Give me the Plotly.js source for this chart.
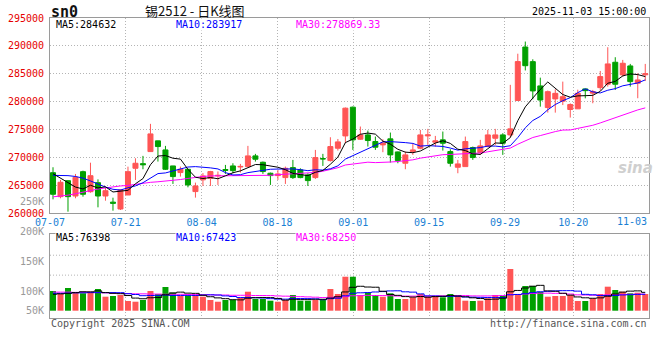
<!DOCTYPE html>
<html><head><meta charset="utf-8">
<script src="https://cdn.plot.ly/plotly-3.0.1.min.js"></script>
<style>html,body{margin:0;padding:0;background:#fff}#chart{width:660px;height:360px}</style>
</head><body><div id="chart"></div>
<script>
const dates = ['07-07','07-08','07-09','07-10','07-11','07-14','07-15','07-16','07-17','07-18',
'07-21','07-22','07-23','07-24','07-25','07-28','07-29','07-30','07-31','08-01',
'08-04','08-05','08-06','08-07','08-08','08-11','08-12','08-13','08-14','08-15',
'08-18','08-19','08-20','08-21','08-22','08-25','08-26','08-27','08-28','08-29',
'09-01','09-02','09-03','09-04','09-05','09-08','09-09','09-10','09-11','09-12',
'09-15','09-16','09-17','09-18','09-19','09-22','09-23','09-24','09-25','09-26',
'09-29','09-30','10-09','10-10','10-13','10-14','10-15','10-16','10-17','10-20',
'10-21','10-22','10-23','10-24','10-27','10-28','10-29','10-30','10-31','11-03'];

const open = [267280,262980,265850,263100,267460,263870,265490,263100,262000,260770,
263280,268070,268900,271060,272980,271360,268490,267300,267890,263890,
266000,266280,266700,267850,268490,268300,268370,270290,269150,267180,
266760,266400,268190,267780,266880,266400,269800,269450,271660,273870,
279020,273280,274050,272860,272260,273340,271000,268970,271060,271660,
273870,272740,273160,271060,268250,268370,271780,270880,271960,273450,
274050,274050,280210,289800,287180,282830,278950,280500,280100,278600,
278720,282290,281530,282520,283130,287070,284800,286410,283310,284820];
const high = [268250,265970,265900,267050,267640,269070,266080,264660,262800,264300,
268360,269860,270290,276030,273000,272080,268500,268370,267900,265500,
267200,267600,267500,268670,268970,268850,272080,270650,269270,267300,
267780,268370,269570,268070,267180,271360,270650,273630,273320,278960,
279140,275550,274830,273750,273270,274470,271060,271060,272560,274950,
275130,273870,274650,271480,269570,273750,271960,273160,274950,275130,
274350,283020,288600,290780,287600,284310,282000,282230,283600,279700,
282150,282300,282110,285510,289760,287970,287490,286770,285100,286770];
const low = [262500,262690,260290,262690,262980,263690,261070,262260,260470,260590,
263280,265970,267890,271000,269270,267770,265260,266580,264660,262810,
264900,264900,265080,267060,267180,267300,268250,269270,267060,265080,
265980,265260,266160,266280,264900,266160,268490,269270,271240,272560,
271360,273160,271960,271360,270950,269090,268970,267900,270470,271480,
272260,271960,271240,268370,267180,268370,269570,270470,271840,272260,
270470,273600,280210,285600,280440,279110,278050,278040,279400,277160,
278700,280600,279720,281980,282700,282110,284500,282700,280620,283700];
const close = [263410,265560,262980,266450,263410,266740,263100,264050,261800,264180,
267460,268970,268700,274230,271960,267890,266580,267890,265080,264900,
266700,267480,266800,267700,267650,268400,270290,269690,267480,266760,
267060,268070,266400,266400,265860,269990,269750,271960,272800,278840,
273160,274050,273040,271840,272560,270470,269450,270470,271360,274050,
274050,272980,272560,268970,268850,272860,269990,272080,274050,274050,
272560,275130,287190,286450,281930,280300,281800,281500,280900,279500,
281510,281980,281800,284500,286770,283130,286890,283600,283900,285000];

const ma5 = [267100,266300,265400,264700,264362,265028,264536,264750,263820,263974,
264118,265292,266222,268708,270264,270350,269872,269710,267880,266468,
266230,266410,266192,266716,267266,267606,268168,268746,268702,268524,
268256,267812,267154,266938,266758,267344,267680,268792,270072,272668,
273302,274162,274378,274186,272930,272392,271472,270958,270862,271160,
271876,272582,273000,272522,271482,271244,270646,270550,271566,272606,
272546,273574,276596,279076,280652,282200,283534,282396,281286,280800,
281042,281078,281138,281858,283312,283636,284618,284978,284858,284504];
const ma10 = [266800,266800,266750,266600,266300,265800,265200,264700,264300,264168,
264573,264914,265486,266264,267119,267234,267582,267966,268294,268366,
268290,268141,267951,267298,266867,266918,267289,267469,267709,267895,
267931,267990,267950,267820,267641,267800,267746,267973,268505,269713,
270323,270921,271585,272129,272799,272847,272817,272668,272524,272045,
272134,272027,271979,271692,271321,271560,271614,271775,272044,272044,
271895,272110,273573,275321,276629,277373,278554,279496,280181,280726,
281621,282306,281767,281572,282056,282339,282848,283058,283358,283908];
const ma30 = [262950,263050,263250,263500,263800,264050,264350,264550,264750,264900,
265000,265200,265400,265550,265650,265750,265900,266050,266250,266450,
266600,266700,266700,266700,266700,266700,266750,266800,266800,266810,
266931,267015,267129,267127,267209,267317,267539,267803,268169,268658,
268848,269017,269162,269082,269102,269188,269284,269370,269579,269884,
270129,270313,270505,270547,270587,270736,270726,270805,271024,271267,
271451,271686,272379,273047,273583,273927,274328,274646,274916,274938,
275217,275481,275773,276195,276669,277091,277672,278110,278528,278893];

const volume = [81700,69300,94200,76300,72200,78800,90000,58100,61000,65100,
40200,37300,44400,81700,69300,98300,74700,61000,61000,65100,
58100,44400,37300,44400,44400,54100,78800,48500,48500,41500,
37300,44400,65100,41500,41500,44400,44400,90000,69300,141000,
141000,65100,74700,65100,58100,72200,48500,48500,55600,69300,
58100,61000,55600,69300,61000,41500,40200,41500,51500,65100,
61000,173000,69300,102500,102500,78800,58100,61000,61000,65100,
40200,40200,51500,69300,99600,85900,78800,72200,74700,69300];
const volMa5 = [68000,70000,72000,75000,78700,78200,82300,75100,72000,70600,
62900,52300,49600,53700,54600,66200,73700,77000,72900,72000,
64000,57900,53200,49900,45700,44900,51800,54000,54900,54300,
50900,44000,47400,46000,46000,47400,47400,52400,57900,77800,
97100,101300,98200,97400,80800,67000,63700,58500,56600,58800,
56000,58500,59900,62700,61000,57700,53500,50700,47100,48000,
51900,78400,84000,94200,101700,105200,82200,80600,72300,64800,
57100,53500,51600,53300,60200,69300,77000,81200,82200,76200];
const volMa10 = [72000,72000,73000,74000,74000,75000,75000,75000,75000,74700,
70500,67300,62300,62900,62600,64500,63000,63300,63300,63300,
65100,65800,65100,61400,58900,54500,54900,53600,52400,50000,
47900,47900,50700,50400,50100,49200,45700,49900,51900,61900,
72300,74300,75300,77700,79300,82100,82500,78400,77000,69800,
61500,61100,59200,59600,59900,56800,56000,55300,54900,54500,
54800,66000,67300,70700,74800,78500,80300,82300,83200,83200,
81200,67900,66100,62800,62500,63200,65300,66400,67800,68200];
const volMa30 = [77000,77000,77000,76000,76000,76000,75000,74000,73000,72000,
71000,70000,70000,69000,69000,68000,68000,68000,67000,67000,
66000,66000,65000,65000,64000,64000,64000,63000,63000,62700,
61200,60300,59400,58200,57200,56000,54500,55600,55900,58400,
61800,62700,63700,63100,62800,61900,61000,60600,60400,60600,
60600,61100,61700,62600,63100,62700,61400,61200,61300,62100,
62900,67100,67300,69300,71300,72500,72900,72000,71700,69200,
65800,65000,64200,64400,65700,66200,67200,68000,68600,68600];

const dateLabels = ['07-07','07-21','08-04','08-18','09-01','09-15','09-29','10-20','11-03'];
const priceTicks = [260000,265000,270000,275000,280000,285000,290000,295000];
const volLabels = ['250K','200K','150K','100K','50K'];
const volLabelValues = [250000,200000,150000,100000,50000];

const symbolText = 'sn0';
const titleText = '锡2512 - 日K线图';
const timeText = '2025-11-03 15:00:00';
const priceMaTexts = ['MA5:284632','MA10:283917','MA30:278869.33'];
const volMaTexts = ['MA5:76398','MA10:67423','MA30:68250'];
const copyrightText = 'Copyright 2025 SINA.COM';
const urlText = 'http://finance.sina.com.cn';

// ---- styling ----
const RED = '#ff5555', GREEN = '#00a000';
const MA_COLORS = ['#000000', '#0000ff', '#ff00ff'];
const MONO = 'DejaVu Sans Mono, monospace';
const GRID = '#b4b4b4', FRAME = '#9a9a9a';
const X_RANGE = [-0.4, 79.5];
const VOL_RANGE = [-30300, 317000];
const VOL_LABEL_RANGE = [55000, 260000];

const idx = dates.map((d, i) => i);
const N = dates.length;
const tickIndex = dateLabels.map(l => dates.indexOf(l));
const tickPos = tickIndex.map(k => X_RANGE[0] + k * (X_RANGE[1] - X_RANGE[0]) / (N - 1));
const last = dateLabels.length - 1;
const up = close.map((c, i) => c >= open[i]);
const volColors = up.map(u => u ? RED : GREEN);

const traces = [
  {type: 'candlestick', x: idx, open: open, high: high, low: low, close: close,
   xaxis: 'x', yaxis: 'y', whiskerwidth: 0, hoverinfo: 'skip', showlegend: false,
   increasing: {line: {color: RED, width: 1}, fillcolor: RED},
   decreasing: {line: {color: GREEN, width: 1}, fillcolor: GREEN}},
  {type: 'scatter', mode: 'lines', x: idx, y: ma30, xaxis: 'x', yaxis: 'y', line: {color: MA_COLORS[2], width: 1}, hoverinfo: 'skip'},
  {type: 'scatter', mode: 'lines', x: idx, y: ma10, xaxis: 'x', yaxis: 'y', line: {color: MA_COLORS[1], width: 1}, hoverinfo: 'skip'},
  {type: 'scatter', mode: 'lines', x: idx, y: ma5, xaxis: 'x', yaxis: 'y', line: {color: MA_COLORS[0], width: 1}, hoverinfo: 'skip'},
  {type: 'bar', x: idx, y: volume, xaxis: 'x', yaxis: 'y2', width: 0.8,
   marker: {color: volColors, line: {width: 0}}, hoverinfo: 'skip'},
  {type: 'scatter', mode: 'lines', x: idx, y: volMa30, xaxis: 'x', yaxis: 'y2', line: {color: MA_COLORS[2], width: 1, shape: 'hvh'}, hoverinfo: 'skip'},
  {type: 'scatter', mode: 'lines', x: idx, y: volMa10, xaxis: 'x', yaxis: 'y2', line: {color: MA_COLORS[1], width: 1, shape: 'hvh'}, hoverinfo: 'skip'},
  {type: 'scatter', mode: 'lines', x: idx, y: volMa5, xaxis: 'x', yaxis: 'y2', line: {color: MA_COLORS[0], width: 1, shape: 'hvh'}, hoverinfo: 'skip'},
  {type: 'scatter', mode: 'markers', x: [], y: [], xaxis: 'x3', yaxis: 'y3', hoverinfo: 'skip'}
];

const annFont = (c, s) => ({family: MONO, size: s || 10, color: c});
const annotations = [
  {xref: 'paper', yref: 'paper', x: -0.002, y: 1.02, xanchor: 'left', yanchor: 'middle', showarrow: false,
   text: '<b>' + symbolText + '</b>', font: {family: MONO, size: 15, color: '#111'}},
  {xref: 'paper', yref: 'paper', x: 0.242, y: 1.026, xanchor: 'center', yanchor: 'middle', showarrow: false,
   text: titleText, font: {family: 'Noto Sans CJK SC, sans-serif', size: 13, color: '#111'}},
  {xref: 'paper', yref: 'paper', x: 0.998, y: 1.02, xanchor: 'right', yanchor: 'middle', showarrow: false,
   text: timeText, font: annFont('#000')},
  {xref: 'x', yref: 'paper', x: tickPos[last], y: 0.321, xanchor: 'right', yanchor: 'middle', showarrow: false,
   text: dateLabels[last], font: annFont('#1a7fd4')},
  {xref: 'paper', yref: 'paper', x: -0.002, y: -0.0167, xanchor: 'left', yanchor: 'middle', showarrow: false,
   text: copyrightText, font: annFont('#555')},
  {xref: 'paper', yref: 'paper', x: 1.0, y: -0.0167, xanchor: 'right', yanchor: 'middle', showarrow: false,
   text: urlText, font: annFont('#555')},
  {xref: 'paper', yref: 'paper', x: 0.977, y: 0.5, xanchor: 'center', yanchor: 'middle', showarrow: false,
   text: '<b><i>sina</i></b>', font: {family: 'DejaVu Sans, sans-serif', size: 15, color: '#cfcfcf'}}
];
const legendX = [0.0083, 0.2087, 0.409];
priceMaTexts.forEach((t, i) => annotations.push({xref: 'paper', yref: 'paper', x: legendX[i], y: 0.98,
  xanchor: 'left', yanchor: 'middle', showarrow: false, text: t, font: annFont(MA_COLORS[i]), bgcolor: '#fff', borderpad: 0}));
volMaTexts.forEach((t, i) => annotations.push({xref: 'paper', yref: 'paper', x: legendX[i], y: 0.2667,
  xanchor: 'left', yanchor: 'middle', showarrow: false, text: t, font: annFont(MA_COLORS[i]), bgcolor: '#fff', borderpad: 0}));

const dotLine = {color: GRID, width: 1, dash: '1px,2px'};
const shapes = [0.75, 0.512].map(f => ({type: 'line', xref: 'x domain', yref: 'y2 domain',
  x0: 0, x1: 1, y0: f, y1: f, line: dotLine, layer: 'below'}));

const layout = {
  width: 660, height: 360,
  margin: {l: 50, r: 11, t: 18, b: 42},
  paper_bgcolor: '#fff', plot_bgcolor: 'rgba(0,0,0,0)',
  showlegend: false, hovermode: false, dragmode: false,
  boxgap: 0.333, boxgroupgap: 0,
  xaxis: {range: X_RANGE, anchor: 'y', tickvals: tickPos,
    ticktext: dateLabels.map((l, i) => i === last ? '' : l),
    showgrid: true, gridcolor: GRID, griddash: '1px,2px', gridwidth: 1,
    showline: true, mirror: 'all', linecolor: FRAME, linewidth: 1, zeroline: false,
    ticks: '', tickfont: annFont('#1a7fd4'), rangeslider: {visible: false}, fixedrange: true},
  yaxis: {domain: [0.349, 1], range: [260000, 295000], tickvals: priceTicks, tickformat: 'd',
    showgrid: true, gridcolor: GRID, griddash: '1px,2px', gridwidth: 1,
    showline: true, mirror: true, linecolor: FRAME, linewidth: 1, zeroline: false,
    ticks: 'outside', ticklen: 3, tickcolor: 'rgba(0,0,0,0)', tickfont: annFont('#e60000'), fixedrange: true},
  yaxis2: {domain: [0, 0.279], range: VOL_RANGE, anchor: 'x', showticklabels: false, showgrid: false,
    showline: true, mirror: true, linecolor: FRAME, linewidth: 1, zeroline: false, ticks: '', fixedrange: true},
  xaxis3: {domain: [0, 1], range: [0, 1], anchor: 'y3', visible: false, fixedrange: true},
  yaxis3: {domain: [0, 0.41], range: VOL_LABEL_RANGE, anchor: 'x3',
    tickvals: volLabelValues.map(v => Math.max(v, VOL_LABEL_RANGE[0] + 12200)), ticktext: volLabels,
    showgrid: false, showline: false, zeroline: false, ticks: 'outside', ticklen: 3, tickcolor: 'rgba(0,0,0,0)',
    tickfont: annFont('#999'), fixedrange: true},
  annotations: annotations,
  shapes: shapes
};

Plotly.newPlot('chart', traces, layout, {displayModeBar: false, staticPlot: true});
</script>
</body></html>
